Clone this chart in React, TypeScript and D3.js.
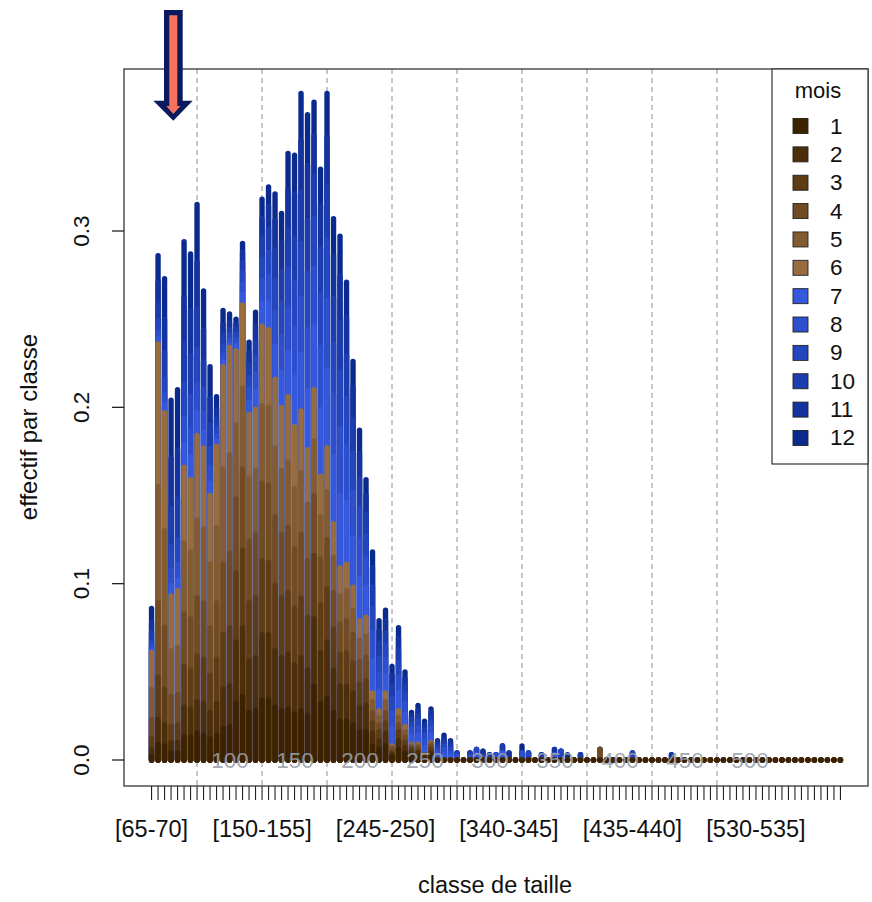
import React from "react";
import * as d3 from "d3";

// size classes (lower bounds, mm), 5 mm wide: [65-70] ... [595-600]
const classLower = d3.range(65, 600, 5);
const tickLabels = ["[65-70]", "[150-155]", "[245-250]", "[340-345]", "[435-440]", "[530-535]"];
const tickLabelLower = [65, 150, 245, 340, 435, 530];
const yTicks = [0, 0.1, 0.2, 0.3];
const gridMM = [100, 150, 200, 250, 300, 350, 400, 450, 500];
const monthNames = ["1", "2", "3", "4", "5", "6", "7", "8", "9", "10", "11", "12"];
const monthColors = [
  "#3d2200", "#4d2e0a", "#5e3c16", "#704b23", "#835b31", "#976c3f",
  "#3558dc", "#2d4fcd", "#2446be", "#1c3dae", "#14339e", "#0b2a8e",
];

// effectif par classe, one array per month (index = size class)
const m1 = [
  .002, .009, .008, .004, .004, .013, .013, .015, .014, .012,
  .014, .018, .019, .032, .036, .027, .028, .034, .034, .030,
  .028, .029, .026, .028, .025, .042, .032, .035, .027, .022,
  .022, .020, .016, .016, .008, .006, .008, .002, .006, .004,
  .002, .002, .001, .002, 0, 0, 0, 0, 0, 0,
  0, 0, 0, 0, 0, 0, 0, 0, 0, 0,
  0, 0, 0, 0, 0, 0, 0, 0, 0, 0,
  0, 0, 0, 0, 0, 0, 0, 0, 0, 0,
  0, 0, 0, 0, 0, 0, 0, 0, 0, 0,
  0, 0, 0, 0, 0, 0, 0, 0, 0, 0,
  0, 0, 0, 0, 0, 0, 0];
const m2 = [
  .004, .014, .012, .006, .006, .017, .016, .018, .018, .015,
  .018, .022, .023, .035, .039, .029, .030, .037, .037, .032,
  .030, .031, .028, .030, .026, .038, .029, .032, .024, .020,
  .020, .018, .014, .015, .007, .005, .007, .001, .005, .003,
  .002, .002, .001, .002, 0, 0, 0, 0, 0, 0,
  0, 0, 0, 0, 0, 0, 0, 0, 0, 0,
  0, 0, 0, 0, 0, 0, 0, 0, 0, 0,
  0, 0, 0, 0, 0, 0, 0, 0, 0, 0,
  0, 0, 0, 0, 0, 0, 0, 0, 0, 0,
  0, 0, 0, 0, 0, 0, 0, 0, 0, 0,
  0, 0, 0, 0, 0, 0, 0];
const m3 = [
  .006, .024, .020, .009, .010, .023, .022, .026, .025, .021,
  .025, .031, .033, .039, .044, .033, .034, .042, .041, .037,
  .034, .035, .032, .034, .030, .036, .027, .030, .023, .018,
  .019, .017, .013, .014, .006, .005, .006, .001, .005, .003,
  .002, .001, 0, .002, 0, 0, 0, 0, 0, 0,
  0, 0, 0, 0, 0, 0, 0, 0, 0, 0,
  0, 0, 0, 0, 0, 0, 0, 0, 0, 0,
  0, 0, 0, 0, 0, 0, 0, 0, 0, 0,
  0, 0, 0, 0, 0, 0, 0, 0, 0, 0,
  0, 0, 0, 0, 0, 0, 0, 0, 0, 0,
  0, 0, 0, 0, 0, 0, 0];
const m4 = [
  .011, .042, .035, .017, .017, .030, .029, .033, .032, .027,
  .032, .040, .042, .042, .046, .035, .036, .044, .044, .039,
  .036, .037, .034, .036, .032, .034, .026, .028, .021, .017,
  .018, .016, .013, .013, .006, .004, .006, .002, .004, .003,
  .001, .002, .001, .002, 0, 0, 0, 0, 0, 0,
  0, 0, 0, 0, 0, 0, 0, 0, 0, 0,
  0, 0, 0, 0, 0, 0, 0, 0, 0, .006,
  0, 0, 0, 0, 0, 0, 0, 0, 0, 0,
  0, 0, 0, 0, 0, 0, 0, 0, 0, 0,
  0, 0, 0, 0, 0, 0, 0, 0, 0, 0,
  0, 0, 0, 0, 0, 0, 0];
const m5 = [
  .017, .066, .055, .026, .027, .040, .038, .044, .042, .036,
  .043, .054, .056, .042, .046, .036, .036, .044, .044, .039,
  .036, .037, .034, .035, .032, .031, .024, .027, .020, .016,
  .017, .014, .012, .012, .006, .004, .006, .001, .004, .003,
  .001, .001, 0, .001, 0, 0, 0, 0, 0, 0,
  0, 0, 0, 0, 0, 0, 0, 0, 0, 0,
  0, 0, 0, 0, 0, 0, 0, 0, 0, 0,
  0, 0, 0, 0, 0, 0, 0, 0, 0, 0,
  0, 0, 0, 0, 0, 0, 0, 0, 0, 0,
  0, 0, 0, 0, 0, 0, 0, 0, 0, 0,
  0, 0, 0, 0, 0, 0, 0];
const m6 = [
  .021, .081, .067, .031, .032, .043, .041, .048, .046, .039,
  .046, .058, .061, .042, .047, .036, .035, .045, .044, .039,
  .036, .037, .035, .035, .031, .029, .023, .025, .019, .016,
  .015, .013, .011, .011, .005, .004, .005, .001, .004, .003,
  .001, .001, 0, .001, 0, 0, 0, 0, 0, 0,
  0, 0, 0, 0, 0, 0, 0, 0, 0, 0,
  0, 0, 0, 0, 0, 0, 0, 0, 0, 0,
  0, 0, 0, 0, 0, 0, 0, 0, 0, 0,
  0, 0, 0, 0, 0, 0, 0, 0, 0, 0,
  0, 0, 0, 0, 0, 0, 0, 0, 0, 0,
  0, 0, 0, 0, 0, 0, 0];
const m7 = [
  .001, .003, .004, .006, .006, .013, .013, .013, .009, .007,
  .003, .003, .002, .003, .006, .007, .010, .013, .015, .019,
  .020, .025, .028, .032, .034, .036, .038, .044, .038, .041,
  .035, .028, .024, .017, .018, .011, .010, .010, .010, .007,
  .004, .005, .004, .004, .002, .003, .002, .001, 0, 0,
  .003, 0, 0, 0, .004, 0, 0, 0, 0, 0,
  0, 0, .003, 0, 0, 0, 0, 0, 0, 0,
  0, 0, 0, 0, 0, 0, 0, 0, 0, 0,
  0, 0, 0, 0, 0, 0, 0, 0, 0, 0,
  0, 0, 0, 0, 0, 0, 0, 0, 0, 0,
  0, 0, 0, 0, 0, 0, 0];
const m8 = [
  .002, .004, .006, .009, .009, .015, .015, .016, .011, .009,
  .003, .004, .002, .003, .006, .007, .010, .013, .015, .019,
  .020, .025, .028, .032, .034, .033, .035, .040, .035, .038,
  .032, .026, .022, .016, .016, .010, .009, .009, .009, .006,
  .004, .004, .004, .004, .002, .003, .002, .001, 0, .002,
  0, 0, 0, .003, 0, 0, 0, .004, 0, 0,
  0, 0, 0, 0, 0, 0, 0, 0, 0, 0,
  0, 0, 0, 0, 0, 0, 0, 0, 0, 0,
  0, 0, 0, 0, 0, 0, 0, 0, 0, 0,
  0, 0, 0, 0, 0, 0, 0, 0, 0, 0,
  0, 0, 0, 0, 0, 0, 0];
const m9 = [
  .003, .006, .009, .013, .014, .019, .019, .020, .013, .011,
  .004, .005, .003, .003, .006, .007, .009, .012, .014, .018,
  .019, .023, .026, .031, .032, .028, .030, .034, .029, .032,
  .027, .022, .018, .013, .014, .009, .008, .008, .008, .005,
  .003, .004, .003, .003, .002, .002, .002, .001, 0, 0,
  .003, .002, 0, 0, 0, 0, 0, 0, .004, 0,
  0, 0, 0, .005, 0, 0, 0, 0, 0, 0,
  0, 0, 0, 0, .004, 0, 0, 0, 0, 0,
  0, 0, 0, 0, 0, 0, 0, 0, 0, 0,
  0, 0, 0, 0, 0, 0, 0, 0, 0, 0,
  0, 0, 0, 0, 0, 0, 0];
const m10 = [
  .005, .010, .015, .022, .023, .023, .023, .023, .016, .013,
  .005, .006, .003, .003, .006, .007, .009, .012, .013, .017,
  .018, .022, .025, .029, .030, .024, .026, .030, .026, .028,
  .024, .019, .016, .012, .012, .008, .007, .007, .007, .005,
  .003, .003, .003, .003, .002, .002, .002, .001, 0, .002,
  0, 0, .003, 0, .004, 0, 0, 0, 0, 0,
  .003, 0, 0, 0, 0, 0, .003, 0, 0, 0,
  0, 0, 0, 0, 0, 0, 0, 0, 0, 0,
  0, 0, 0, 0, 0, 0, 0, 0, 0, 0,
  0, 0, 0, 0, 0, 0, 0, 0, 0, 0,
  0, 0, 0, 0, 0, 0, 0];
const m11 = [
  .006, .012, .019, .028, .028, .026, .026, .026, .018, .015,
  .006, .006, .004, .003, .006, .007, .009, .011, .013, .017,
  .017, .022, .025, .029, .031, .023, .024, .028, .024, .026,
  .022, .018, .015, .011, .011, .007, .007, .006, .007, .004,
  .002, .003, .003, .003, .002, .002, .002, 0, 0, 0,
  0, .003, 0, 0, 0, .004, 0, 0, 0, 0,
  0, 0, .003, 0, 0, 0, 0, 0, 0, 0,
  0, 0, 0, 0, 0, 0, 0, 0, 0, 0,
  .003, 0, 0, 0, 0, 0, 0, 0, 0, 0,
  0, 0, 0, 0, 0, 0, 0, 0, 0, 0,
  0, 0, 0, 0, 0, 0, 0];
const m12 = [
  .008, .015, .023, .033, .034, .032, .032, .033, .022, .018,
  .007, .008, .005, .003, .005, .006, .008, .011, .011, .015,
  .016, .021, .022, .027, .029, .019, .021, .025, .021, .023,
  .020, .015, .013, .009, .009, .006, .006, .005, .006, .004,
  .002, .003, .002, .002, .001, .002, .001, 0, 0, 0,
  0, 0, 0, 0, 0, 0, 0, .004, 0, 0,
  0, 0, 0, 0, .003, 0, 0, 0, 0, 0,
  0, 0, 0, 0, 0, 0, 0, 0, 0, 0,
  0, 0, 0, 0, 0, 0, 0, 0, 0, 0,
  0, 0, 0, 0, 0, 0, 0, 0, 0, 0,
  0, 0, 0, 0, 0, 0, 0];

const months = [m1, m2, m3, m4, m5, m6, m7, m8, m9, m10, m11, m12];

const FONT = "'Liberation Sans', Arial, Helvetica, sans-serif";

export default function App() {
  const n = classLower.length;
  const pad = (n - 1) * 0.04;
  const left = 124, right = 868, top = 69, bottom = 786;
  const x = d3.scaleLinear().domain([-pad, n - 1 + pad]).range([left, right]);
  const y = d3.scaleLinear().domain([0, 0.3]).range([760, 231]);
  const idx = (mm: number) => (mm - 65) / 5;

  // cumulative sums, month 1 at the bottom
  const cum: number[][] = [];
  months.forEach((arr, k) => {
    cum.push(classLower.map((_, i) => (k === 0 ? 0 : cum[k - 1][i]) + (arr[i] || 0)));
  });

  const layers = d3.range(11, -1, -1);

  return (
    <svg width={872} height={902} style={{ display: "block", position: "absolute", left: 0, top: 0 }} fontFamily={FONT}>
      <rect x={0} y={0} width={872} height={902} fill="#fff" />
      {/* dashed grid */}
      {gridMM.map((mm) => (
        <line key={"g" + mm} x1={x(idx(mm))} x2={x(idx(mm))} y1={top} y2={bottom}
          stroke="#a8a8a8" strokeWidth={1.3} strokeDasharray="5,4" />
      ))}
      {/* bars */}
      {layers.map((k) => (
        <g key={"l" + k} stroke={monthColors[k]} strokeWidth={5.4} strokeLinecap="round">
          {cum[k].map((v, i) => (
            <line key={i} x1={x(i)} x2={x(i)} y1={y(0)} y2={Math.min(y(v), y(0) - 0.01)} />
          ))}
        </g>
      ))}
      {/* gray overlay numbers */}
      {gridMM.map((mm) => (
        <text key={"t" + mm} x={x(idx(mm) + 5.07)} y={760} fill="#98a0aa" fillOpacity={0.9}
          fontSize={22.5} textAnchor="middle" dominantBaseline="central">{mm}</text>
      ))}
      {/* box */}
      <rect x={left} y={top} width={right - left} height={bottom - top} fill="none" stroke="#444" strokeWidth={1.4} />
      {/* y axis */}
      {yTicks.map((t) => (
        <g key={"y" + t}>
          <line x1={left - 12} x2={left} y1={y(t)} y2={y(t)} stroke="#222" strokeWidth={1.3} />
          <text transform={`translate(81,${y(t)}) rotate(-90)`} textAnchor="middle" dominantBaseline="central"
            fontSize={22.5} fill="#111">{t.toFixed(1)}</text>
        </g>
      ))}
      {/* x axis ticks */}
      {classLower.map((c, i) => (
        <line key={"x" + c} x1={x(i)} x2={x(i)} y1={bottom} y2={bottom + 14} stroke="#222" strokeWidth={1.1} />
      ))}
      {tickLabels.map((lab, j) => (
        <text key={lab} x={x(idx(tickLabelLower[j]))} y={829} textAnchor="middle" dominantBaseline="central"
          fontSize={23.5} fill="#111">{lab}</text>
      ))}
      <text x={495} y={885} textAnchor="middle" dominantBaseline="central" fontSize={23.5} fill="#111">classe de taille</text>
      <text transform="translate(28,427) rotate(-90)" textAnchor="middle" dominantBaseline="central" fontSize={24} fill="#111">effectif par classe</text>
      {/* legend */}
      <rect x={772} y={top} width={right - 772} height={464 - top} fill="#fff" stroke="#333" strokeWidth={1.2} />
      <text x={818} y={90} textAnchor="middle" dominantBaseline="central" fontSize={22} fill="#111">mois</text>
      {monthNames.map((m, i) => {
        const cy = 126 + i * 28.36;
        return (
          <g key={"lg" + m}>
            <rect x={793} y={cy - 7.5} width={15} height={15} fill={monthColors[i]} stroke="#222" strokeWidth={0.9} />
            <text x={830} y={cy} dominantBaseline="central" fontSize={22.5} fill="#111">{m}</text>
          </g>
        );
      })}
      {/* arrow */}
      <polygon points="164,10 182.7,10 182.7,100.7 192.7,100.7 173.3,120.7 153.3,100.7 164,100.7" fill="#0b1a5e" />
      <polygon points="169.3,15.3 177.3,15.3 177.3,106 180.5,106 173.3,114 166.2,106 169.3,106" fill="#f4735a" />
    </svg>
  );
}
